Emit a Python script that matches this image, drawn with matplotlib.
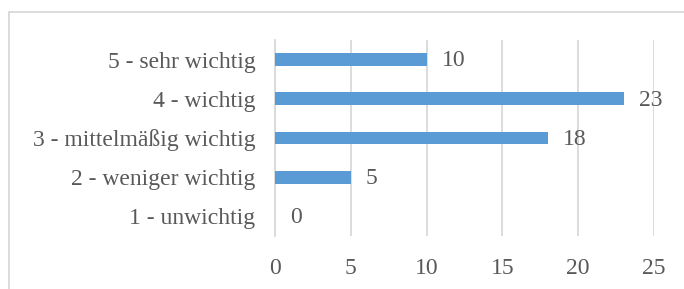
#!/usr/bin/env python3

##### Imports
import matplotlib
matplotlib.use('Agg')
import matplotlib.pyplot as plt
from matplotlib.patches import Rectangle

##### Data
categories = ['1 - unwichtig', '2 - weniger wichtig', '3 - mittelmäßig wichtig',
              '4 - wichtig', '5 - sehr wichtig']
counts = [0, 5, 18, 23, 10]
x_ticks = [0, 5, 10, 15, 20, 25]

##### Style
bar_color = '#5B9BD5'
text_color = '#595959'
grid_color = '#D9D9D9'
font_size = 17
plt.rcParams['font.family'] = ['Liberation Serif', 'DejaVu Serif']

fig = plt.figure(figsize=(6.84, 2.89), dpi=100)
ax = fig.add_axes([0.402, 0.183, 0.554, 0.679])

pos = list(range(len(categories)))
ax.barh(pos, counts, height=0.33, color=bar_color, zorder=3)

##### Data labels
for p, v in zip(pos, counts):
    ax.annotate(str(v), xy=(v, p), xytext=(11, -1), textcoords='offset points',
                va='center', ha='left', fontsize=font_size, color=text_color)

ax.set_xlim(0, 25)
ax.set_ylim(-0.5, len(categories) - 0.5)
ax.set_xticks(x_ticks)
ax.set_yticks(pos)
ax.set_yticklabels(categories)
ax.tick_params(axis='both', length=0, labelsize=font_size, labelcolor=text_color)
ax.tick_params(axis='x', pad=16)
ax.tick_params(axis='y', pad=14)

ax.grid(axis='x', color=grid_color, linewidth=1.3, zorder=0)
for s in ['top', 'right', 'bottom']:
    ax.spines[s].set_visible(False)
ax.spines['left'].set_color(grid_color)
ax.spines['left'].set_linewidth(1.3)

##### Chart frame (cropped at right and bottom)
frame = Rectangle((9 / 684, -0.1), 1.2, 1.1 - 12 / 289, transform=fig.transFigure,
                  fill=False, edgecolor=grid_color, linewidth=1.3)
fig.patches.append(frame)

plt.savefig('out.png', dpi=100)
plt.close()
